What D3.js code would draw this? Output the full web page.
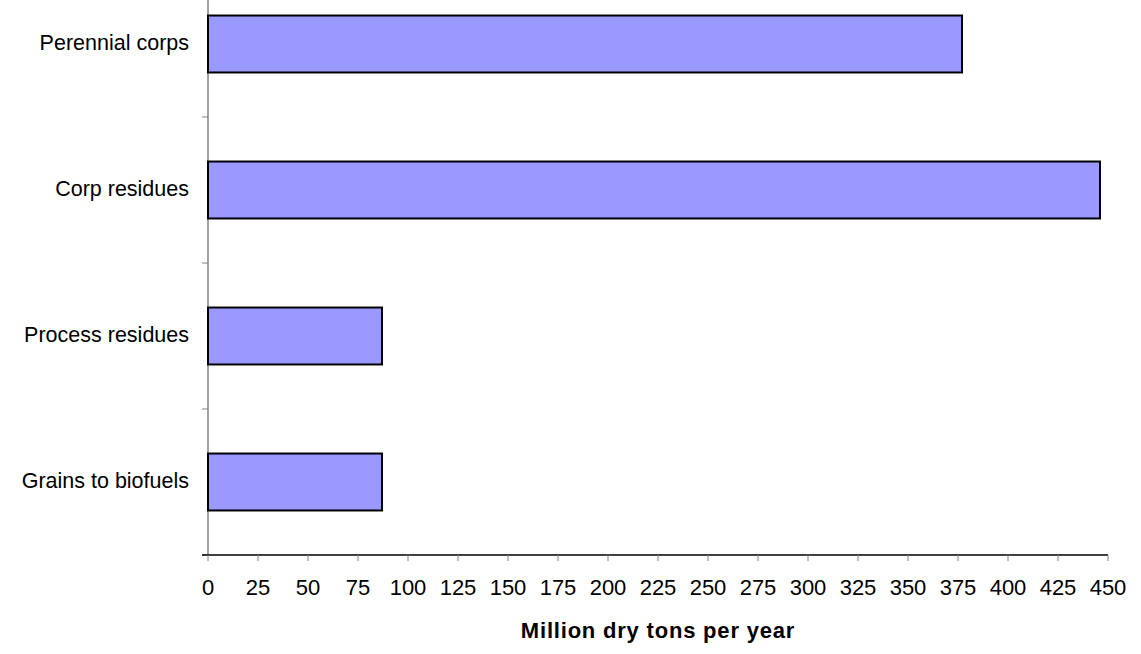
<!DOCTYPE html>
<html><head><meta charset="utf-8">
<script src="https://cdn.jsdelivr.net/npm/d3@7"></script>
<style>body{margin:0;background:#fff}svg{display:block}text{font-family:"Liberation Sans",Arial,sans-serif}</style>
</head><body><svg id="c" width="1141" height="654"></svg>
<script>
const categories = ["Grains to biofuels","Process residues","Corp residues","Perennial corps"];
const values = [87, 87, 446, 377];
const xTicks = [0,25,50,75,100,125,150,175,200,225,250,275,300,325,350,375,400,425,450];
const xTitle = "Million dry tons per year";

const svg = d3.select("#c");
const x = d3.scaleLinear().domain([0,450]).range([208,1108]);
const y = d3.scaleBand().domain(categories).range([555,-29]).paddingInner(0.61).paddingOuter(0.305);

// y-axis line
svg.append("line").attr("x1",208).attr("x2",208).attr("y1",0).attr("y2",555).attr("stroke","#808080").attr("stroke-width",1.5);
// y-axis ticks between categories
const step = y.step();
const bounds = categories.map((c,i)=>555 - i*step);
svg.selectAll(".yt").data(bounds).enter().append("line")
  .attr("x1",202).attr("x2",208).attr("y1",d=>d).attr("y2",d=>d).attr("stroke","#808080").attr("stroke-width",1);

// bars
svg.selectAll(".bar").data(categories).enter().append("rect")
  .attr("x",x(0)).attr("y",d=>y(d)).attr("width",(d,i)=>x(values[i])-x(0)).attr("height",y.bandwidth())
  .attr("fill","#9999FF").attr("stroke","#000").attr("stroke-width",2);

// x axis
svg.append("line").attr("x1",202).attr("x2",1108).attr("y1",555).attr("y2",555).attr("stroke","#000").attr("stroke-width",1.5);
svg.selectAll(".xt").data(xTicks).enter().append("line")
  .attr("x1",d=>x(d)).attr("x2",d=>x(d)).attr("y1",555).attr("y2",561).attr("stroke","#808080").attr("stroke-width",1);
svg.selectAll(".xl").data(xTicks).enter().append("text")
  .attr("x",d=>x(d)).attr("y",595).attr("text-anchor","middle").attr("font-size",22).attr("fill","#000").text(d=>d);

// category labels
svg.selectAll(".yl").data(categories).enter().append("text")
  .attr("x",189).attr("y",d=>y(d)+y.bandwidth()/2+5.5).attr("text-anchor","end").attr("font-size",21.5).attr("fill","#000").text(d=>d);

// title
svg.append("text").attr("x",658).attr("y",638).attr("text-anchor","middle").attr("font-size",22).attr("font-weight","bold").attr("letter-spacing",0.8).text(xTitle);
</script></body></html>
